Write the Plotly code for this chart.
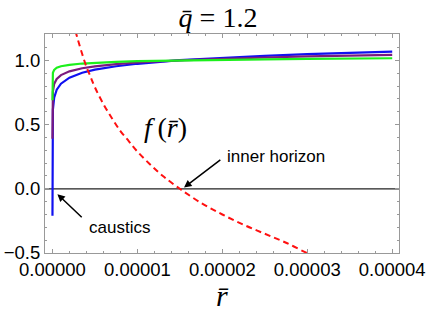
import plotly.graph_objects as go

# r-bar values (x axis) for the three solid curves
r_curves = [0.0, 1e-10, 1e-9, 1e-8, 5e-8, 2e-7, 5e-7, 1e-6, 2e-6, 3.5e-6,
            5e-6, 7.5e-6, 1e-5, 1.5e-5, 2e-5, 2.5e-5, 3e-5, 3.5e-5, 4e-5]
blue_vals = [-0.21, 0.197, 0.353, 0.508, 0.617, 0.710, 0.772, 0.819, 0.866, 0.904,
             0.928, 0.955, 0.974, 1.002, 1.021, 1.036, 1.049, 1.059, 1.068]
purple_vals = [0.39, 0.492, 0.590, 0.689, 0.758, 0.817, 0.856, 0.886, 0.915, 0.939,
               0.954, 0.972, 0.984, 1.001, 1.013, 1.023, 1.031, 1.037, 1.043]
green_vals = [0.69, 0.80, 0.838, 0.877, 0.904, 0.927, 0.943, 0.955, 0.966, 0.976,
              0.982, 0.989, 0.994, 1.000, 1.005, 1.009, 1.012, 1.015, 1.017]

# f(r-bar), red dashed
r_f = [2.7e-6, 3.0e-6, 3.5e-6, 4.0e-6, 4.5e-6, 5.0e-6, 6.0e-6, 7.0e-6, 8.0e-6, 9.0e-6,
       1.0e-5, 1.15e-5, 1.3e-5, 1.5e-5, 1.75e-5, 2.0e-5, 2.25e-5, 2.5e-5, 2.75e-5, 3.0e-5, 3.05e-5]
f_vals = [1.23, 1.16, 1.05, 0.95, 0.87, 0.79, 0.66, 0.55, 0.45, 0.37,
          0.29, 0.19, 0.10, 0.0, -0.11, -0.20, -0.28, -0.35, -0.42, -0.50, -0.51]

x_ticks = [0, 1e-5, 2e-5, 3e-5, 4e-5]
x_tick_text = ["0.00000", "0.00001", "0.00002", "0.00003", "0.00004"]
y_ticks = [-0.5, 0.0, 0.5, 1.0]
y_tick_text = ["\u22120.5", "0.0", "0.5", "1.0"]

SANS = "Liberation Sans, Arial, sans-serif"
SERIF = "Liberation Serif, Times New Roman, serif"

fig = go.Figure()
fig.add_trace(go.Scatter(x=[-1e-6, 4.2e-5], y=[0, 0], mode="lines",
                         line=dict(color="#222222", width=1.2), hoverinfo="skip"))
fig.add_trace(go.Scatter(x=r_curves, y=blue_vals, mode="lines",
                         line=dict(color="#1010F0", width=2.2)))
fig.add_trace(go.Scatter(x=r_curves, y=purple_vals, mode="lines",
                         line=dict(color="#7B1A7E", width=2.2)))
fig.add_trace(go.Scatter(x=r_curves, y=green_vals, mode="lines",
                         line=dict(color="#1CF01C", width=2.2)))
fig.add_trace(go.Scatter(x=r_f, y=f_vals, mode="lines",
                         line=dict(color="#FF1010", width=2, dash="6px,4px", shape="spline")))

axis_common = dict(showgrid=False, zeroline=False, showline=True, linecolor="#999999",
                   linewidth=1.2, mirror="ticks", ticks="inside", ticklen=4, tickwidth=1,
                   tickcolor="#999999", automargin=False,
                   tickfont=dict(family=SANS, size=18.5, color="black"))

fig.update_xaxes(range=[-0.88e-6, 4.08e-5], tickvals=x_ticks, ticktext=x_tick_text,
                 minor=dict(ticks="inside", ticklen=2, tickcolor="#999999", dtick=2e-6, tick0=0),
                 **axis_common)
fig.update_yaxes(range=[-0.5, 1.206], tickvals=y_ticks, ticktext=y_tick_text,
                 minor=dict(ticks="inside", ticklen=2, tickcolor="#999999", dtick=0.1, tick0=0),
                 **axis_common)

# x axis title
fig.add_annotation(x=0.5, y=-0.196, xref="paper", yref="paper", text="<i>r̄</i>",
                   showarrow=False, xanchor="center", yanchor="middle",
                   font=dict(family=SERIF, size=30, color="black"))

fig.add_annotation(x=1.335e-5, y=0.476, xref="x", yref="y", text="<i>f</i>\u2009(<i>r̄</i>)",
                   showarrow=False, font=dict(family=SERIF, size=28, color="black"))
fig.add_annotation(x=1.53e-5, y=0.0, ax=1.994e-5, ay=0.235, axref="x", ayref="y",
                   xref="x", yref="y", text="", showarrow=True, arrowhead=2, arrowsize=1,
                   arrowwidth=1.5, arrowcolor="black", standoff=2)
fig.add_annotation(x=2.635e-5, y=0.248, xref="x", yref="y", text="inner horizon", showarrow=False,
                   font=dict(family=SANS, size=17, color="black"))
fig.add_annotation(x=0.05e-5, y=-0.036, ax=0.362e-5, ay=-0.233, axref="x", ayref="y",
                   xref="x", yref="y", text="", showarrow=True, arrowhead=2, arrowsize=1,
                   arrowwidth=1.5, arrowcolor="black", standoff=1)
fig.add_annotation(x=0.794e-5, y=-0.303, xref="x", yref="y", text="caustics", showarrow=False,
                   font=dict(family=SANS, size=17, color="black"))

fig.update_layout(
    width=436, height=314,
    margin=dict(l=45, r=37, t=34, b=61, autoexpand=False),
    paper_bgcolor="white", plot_bgcolor="white",
    showlegend=False,
    title=dict(text="<i>q̄</i> = 1.2", x=0.5, xanchor="center", y=1 - 17 / 314, yanchor="middle",
               font=dict(family=SERIF, size=28, color="black")),
)

fig.write_html("out.html", config={"displayModeBar": False},
               post_script="document.body.style.margin='0';document.body.style.padding='0';")
